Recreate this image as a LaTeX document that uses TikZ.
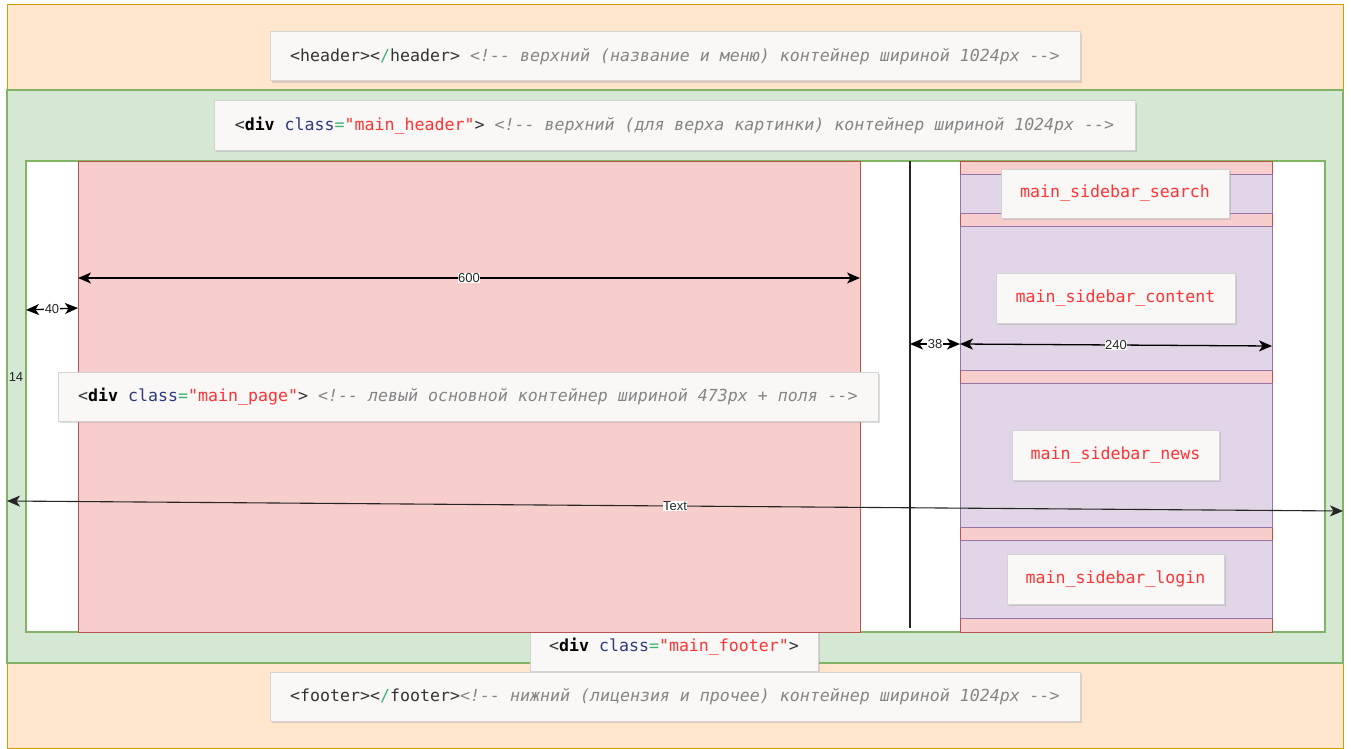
\documentclass[tikz,border=0pt]{standalone}
\usepackage{fontspec}
\setmainfont{Liberation Sans}
\setmonofont{DejaVu Sans Mono}
\usetikzlibrary{arrows.meta,shadows}
\definecolor{orangeF}{HTML}{FFE6CC}
\definecolor{orangeD}{HTML}{D79B00}
\definecolor{greenF}{HTML}{D5E8D4}
\definecolor{greenD}{HTML}{82B366}
\definecolor{redF}{HTML}{F8CECC}
\definecolor{redD}{HTML}{B85450}
\definecolor{purpF}{HTML}{E1D5E7}
\definecolor{purpD}{HTML}{9673A6}
\definecolor{boxF}{HTML}{F9F8F6}
\definecolor{boxD}{HTML}{D3D3D3}
\definecolor{tagC}{HTML}{333333}
\definecolor{attrC}{HTML}{2E3A80}
\definecolor{eqC}{HTML}{3CB371}
\definecolor{strC}{HTML}{FF3333}
\definecolor{cmtC}{HTML}{858585}
\newcommand\hlA{\textcolor{attrC}{class}}
\newcommand\hlE{\textcolor{eqC}{=}}
\newcommand\hlS[1]{\textcolor{strC}{"#1"}}
\newcommand\hlDD{-\kern0pt-}
\newcommand\hlC[1]{\textcolor{cmtC}{\itshape <!\hlDD{} #1 \hlDD>}}
\newcommand\hlDiv{<\textbf{\color{black}div}}
\newcommand\hlSl{\textcolor{eqC}{/}}
\tikzset{
  codebox/.style={draw=boxD, fill=boxF, line width=1pt, inner sep=0pt,
    minimum height=49pt, text=tagC, font=\ttfamily\fontsize{16.6}{20}\selectfont,
    drop shadow={opacity=0.25, shadow xshift=1.5pt, shadow yshift=-2pt}},
  sidebox/.style={codebox, text=strC},
  dimarrow/.style={line width=1.3pt, {Stealth[length=13pt,width=11pt,inset=3.5pt]}-{Stealth[length=13pt,width=11pt,inset=3.5pt]}},
  dimlabel/.style={fill=white, inner sep=0.5pt, font=\fontsize{13}{15}\selectfont, text=black!85},
}
\begin{document}
\begin{tikzpicture}[x=1pt,y=-1pt]
\useasboundingbox (0,0) rectangle (1351,749);
% backgrounds
\fill[white] (0,0) rectangle (1351,749);
\draw[fill=orangeF, draw=orangeD, line width=1pt] (7,5) rectangle (1343,748);
\draw[fill=greenF, draw=greenD, line width=1.2pt] (7,90) rectangle (1343,663);
\draw[fill=white, draw=greenD, line width=1.2pt] (26,161) rectangle (1325,632);
% footer div box (partly hidden by the main page)
\node[codebox, minimum width=288pt] (mfooter) at (674,646.5)
  {\hlDiv{} \hlA\hlE\hlS{main\_footer}>};
% main page
\draw[fill=redF, draw=redD, line width=1pt] (78,161) rectangle (860,632);
% sidebar
\draw[fill=redF, draw=redD, line width=1pt] (960,161) rectangle (1272,632);
\foreach \ya/\yb in {174/213, 226/370, 383/527, 540/618}
  \draw[fill=purpF, draw=purpD, line width=1pt] (960,\ya) rectangle (1272,\yb);
% separator line
\coordinate (sepTop) at (910,161);
\coordinate (sepBot) at (910,628);
\draw[line width=1.5pt, black!85] (sepTop) -- (sepBot);
% code boxes
\node[codebox, minimum width=810pt] (header) at (675,56.5)
  {<header><\hlSl header> \hlC{верхний (название и меню) контейнер шириной 1024px}};
\node[codebox, minimum width=921pt] (mheader) at (674.5,125.5)
  {\hlDiv{} \hlA\hlE\hlS{main\_header}> \hlC{верхний (для верха картинки) контейнер шириной 1024px}};
\node[codebox, minimum width=820pt] (mpage) at (468,396.5)
  {\hlDiv{} \hlA\hlE\hlS{main\_page}> \hlC{левый основной контейнер шириной 473px + поля}};
\node[codebox, minimum width=810pt] (footer) at (675,696.5)
  {<footer><\hlSl footer>\hlC{нижний (лицензия и прочее) контейнер шириной 1024px}};
\node[sidebox, minimum width=228pt] (search) at (1115,193.5) {main\_sidebar\_search};
\node[sidebox, minimum width=239pt, minimum height=50pt] (content) at (1115.5,298) {main\_sidebar\_content};
\node[sidebox, minimum width=207pt, minimum height=50pt] (news) at (1115.5,455) {main\_sidebar\_news};
\node[sidebox, minimum width=217pt, minimum height=50pt] (login) at (1115.5,579) {main\_sidebar\_login};
% dimension arrows
\coordinate (d600a) at (78,278);
\coordinate (d600b) at (860,278);
\draw[dimarrow] (d600a) -- node[dimlabel] (l600) {600} (d600b);
\coordinate (d40a) at (26,310);
\coordinate (d40b) at (78,308);
\draw[dimarrow] (d40a) -- node[dimlabel] (l40) {40} (d40b);
\coordinate (d38a) at (910,344);
\coordinate (d38b) at (960,344);
\draw[dimarrow] (d38a) -- node[dimlabel] (l38) {38} (d38b);
\coordinate (d240a) at (960,344);
\coordinate (d240b) at (1272,346);
\draw[dimarrow] (d240a) -- node[dimlabel] (l240) {240} (d240b);
\coordinate (dTa) at (7,501);
\coordinate (dTb) at (1343,511);
\draw[dimarrow, line width=1.1pt, black!85] (dTa) -- node[dimlabel] (lT) {Text} (dTb);
\node[font=\fontsize{13}{15}\selectfont, text=black!85, inner sep=0pt] (l14) at (16,377) {14};
\end{tikzpicture}
\end{document}
